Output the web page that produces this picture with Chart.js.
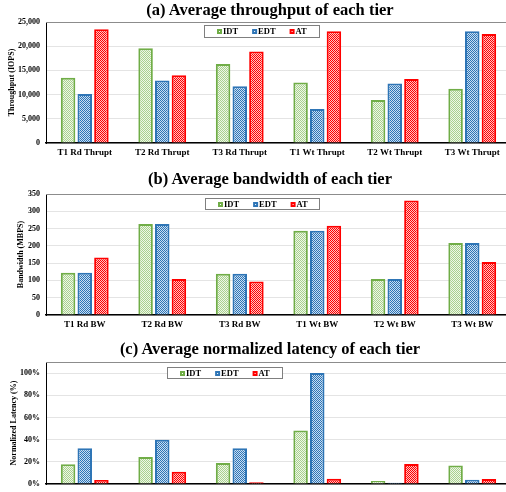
<!DOCTYPE html>
<html>
<head>
<meta charset="utf-8">
<script src="https://cdn.jsdelivr.net/npm/chart.js@4/dist/chart.umd.min.js"></script>
<style>
  html, body { margin: 0; padding: 0; background: #fff; }
  #wrap { position: relative; width: 506px; height: 492px; overflow: hidden; background: #fff; }
  .title {
    position: absolute; left: 0; width: 540px; text-align: center;
    font: bold 16.5px "Liberation Serif", "Times New Roman", serif; color: #000;
    line-height: 18px; white-space: nowrap; z-index: 2;
  }
  canvas { position: absolute; left: 0; }
</style>
</head>
<body>
<div id="wrap">
  <div class="title" style="top:1px">(a) Average throughput of each tier</div>
  <canvas id="chartThr" width="512" height="160" style="top:0;width:512px;height:160px"></canvas>
  <div class="title" style="top:170px">(b) Average bandwidth of each tier</div>
  <canvas id="chartBw" width="512" height="160" style="top:172px;width:512px;height:160px"></canvas>
  <div class="title" style="top:340px">(c) Average normalized latency of each tier</div>
  <canvas id="chartLat" width="512" height="161" style="top:340px;width:512px;height:161px"></canvas>
</div>
<script>
// Series names shared by all three panels
const seriesNames = ['IDT', 'EDT', 'AT'];

// (a) throughput, IOPS
const thrCategories = ['T1 Rd Thrupt', 'T2 Rd Thrupt', 'T3 Rd Thrupt', 'T1 Wt Thrupt', 'T2 Wt Thrupt', 'T3 Wt Thrupt'];
const thrIDT = [13500, 19600, 16300, 12500, 8900, 11200];
const thrEDT = [10100, 12900, 11700, 7000, 12300, 23100];
const thrAT  = [23500, 14000, 18900, 23100, 13200, 22500];
const thrTicks = [0, 5000, 10000, 15000, 20000, 25000];

// (b) bandwidth, MBPS
const bwCategories = ['T1 Rd BW', 'T2 Rd BW', 'T3 Rd BW', 'T1 Wt BW', 'T2 Wt BW', 'T3 Wt BW'];
const bwIDT = [122, 263, 119, 244, 104, 208];
const bwEDT = [122, 263, 119, 244, 104, 208];
const bwAT  = [166, 104, 97, 258, 331, 153];
const bwTicks = [0, 50, 100, 150, 200, 250, 300, 350];

// (c) normalized latency, percent
const latCategories = ['T1 Rd Lat', 'T2 Rd Lat', 'T3 Rd Lat', 'T1 Wt Lat', 'T2 Wt Lat', 'T3 Wt Lat'];
const latIDT = [17.8, 24.4, 19.0, 48.2, 2.7, 16.6];
const latEDT = [32.2, 40.0, 32.2, 100, 1.2, 3.9];
const latAT  = [3.6, 11.1, 1.5, 4.8, 18.1, 4.5];
const latTicks = [0, 20, 40, 60, 80, 100];

const SERIF = '"Liberation Serif", "Times New Roman", serif';

// Small checkerboard fill, colour alternating with a pale tint
function checker(color, light) {
  const tile = document.createElement('canvas');
  tile.width = 2; tile.height = 2;
  const t = tile.getContext('2d');
  t.fillStyle = light; t.fillRect(0, 0, 2, 2);
  t.fillStyle = color; t.fillRect(0, 0, 1, 1); t.fillRect(1, 1, 1, 1);
  return document.createElement('canvas').getContext('2d').createPattern(tile, 'repeat');
}

const styles = [
  { border: '#70AD47', fill: checker('#A9D18E', '#eef6e8') },
  { border: '#2E75B6', fill: checker('#2E75B6', '#c9def2') },
  { border: '#FF0000', fill: checker('#FF0000', '#ffc4c4') }
];

// Plot-area top border plus a boxed legend floating inside the plot
const framePlugin = {
  id: 'frameLegend',
  beforeDatasetsDraw(chart) {
    const { ctx, chartArea } = chart;
    ctx.save();
    ctx.strokeStyle = '#8c8c8c';
    ctx.lineWidth = 1;
    ctx.beginPath();
    ctx.moveTo(chartArea.left, chartArea.top + 0.5);
    ctx.lineTo(chartArea.right, chartArea.top + 0.5);
    ctx.stroke();
    ctx.restore();
  },
  afterDraw(chart, args, opts) {
    const { ctx, chartArea } = chart;
    const x0 = Math.round(chartArea.left + opts.x), y0 = Math.round(chartArea.top + opts.y);
    const w = opts.w, h = opts.h;
    ctx.save();
    ctx.fillStyle = '#fff';
    ctx.fillRect(x0, y0, w, h);
    ctx.strokeStyle = '#7f7f7f';
    ctx.lineWidth = 1;
    ctx.strokeRect(x0 + 0.5, y0 + 0.5, w, h);
    ctx.font = 'bold 8.5px ' + SERIF;
    ctx.textBaseline = 'middle';
    const cy = y0 + h / 2 + 0.5;
    let x = x0 + 13;
    chart.data.datasets.forEach(ds => {
      ctx.fillStyle = ds.borderColor;
      ctx.fillRect(x, Math.round(cy - 2.5), 5, 5);
      ctx.fillStyle = '#fff';
      ctx.fillRect(x + 2, Math.round(cy - 2.5) + 2, 1, 1);
      ctx.fillStyle = '#000';
      ctx.fillText(ds.label, x + 6, cy + 0.5);
      x += 6 + ctx.measureText(ds.label).width + 14;
    });
    ctx.restore();
  }
};

function makeChart(id, cats, a, b, c, ticks, opt) {
  const values = [a, b, c];
  return new Chart(document.getElementById(id), {
    type: 'bar',
    data: {
      labels: cats,
      datasets: seriesNames.map((name, i) => ({
        label: name,
        data: values[i],
        backgroundColor: styles[i].fill,
        borderColor: styles[i].border,
        borderWidth: 2,
        borderSkipped: 'start',
        categoryPercentage: 0.645,
        barPercentage: 0.87
      }))
    },
    options: {
      responsive: false,
      animation: false,
      events: [],
      layout: { padding: { top: 22, right: 1, left: 0, bottom: 0 } },
      plugins: {
        legend: { display: false },
        tooltip: { enabled: false },
        title: { display: false },
        frameLegend: opt.legend
      },
      scales: {
        x: {
          afterFit: s => { s.height = 17; },
          ticks: {
            font: { family: SERIF, weight: 'bold', size: 9 },
            color: '#000', padding: opt.xPad, maxRotation: 0, autoSkip: false
          },
          grid: { drawOnChartArea: false, drawTicks: false },
          border: { color: '#000', width: 1.5 }
        },
        y: {
          min: 0,
          max: opt.max,
          afterBuildTicks: s => { s.ticks = ticks.map(v => ({ value: v })); },
          afterFit: s => { s.width = 46; },
          ticks: {
            font: { family: SERIF, weight: 'bold', size: 8 },
            color: '#000', padding: 6,
            callback: opt.fmt
          },
          grid: { color: '#e4e4e4', drawTicks: false },
          border: { color: '#000', width: 1 },
          title: {
            display: true, text: opt.axisTitle, color: '#000',
            font: { family: SERIF, weight: 'bold', size: 8 },
            padding: { top: opt.titlePad, bottom: 0 }
          }
        }
      }
    },
    plugins: [framePlugin]
  });
}

makeChart('chartThr', thrCategories, thrIDT, thrEDT, thrAT, thrTicks, {
  max: 25000, axisTitle: 'Throughput (IOPS)', titlePad: 7, xPad: 4,
  fmt: v => Number(v).toLocaleString('en-US'),
  legend: { x: 158, y: 3, w: 115, h: 12 }
});
makeChart('chartBw', bwCategories, bwIDT, bwEDT, bwAT, bwTicks, {
  max: 350, axisTitle: 'Bandwidth (MBPS)', titlePad: 16, xPad: 4,
  fmt: v => String(v),
  legend: { x: 159, y: 4, w: 114, h: 11 }
});
makeChart('chartLat', latCategories, latIDT, latEDT, latAT, latTicks, {
  max: 110, axisTitle: 'Normalized Latency (%)', titlePad: 9, xPad: 6,
  fmt: v => v + '%',
  legend: { x: 121, y: 5, w: 115, h: 11 }
});
</script>
</body>
</html>
